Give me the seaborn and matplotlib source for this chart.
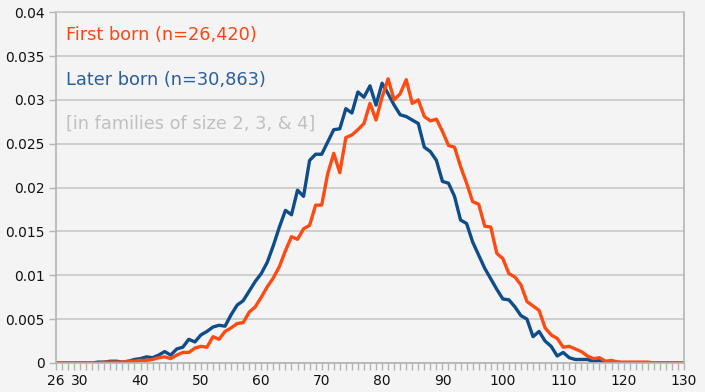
import seaborn as sns
import matplotlib
matplotlib.use("Agg")
import matplotlib.pyplot as plt
import pandas as pd
from matplotlib.ticker import MultipleLocator, FixedLocator, FuncFormatter

# Data: share of people by age (26..130)
ages = list(range(26, 131))

later_born = [
    0, 0, 0, 0, 0, 0, 0, 0.0001, 0.0001, 0.0002,
    0.0002, 0.0001, 0.0002, 0.0004, 0.0005, 0.0007, 0.0006, 0.0009, 0.0013, 0.0009,
    0.0016, 0.0018, 0.0027, 0.0024, 0.0032, 0.0036, 0.0041, 0.0043, 0.0042, 0.0055,
    0.0066, 0.0071, 0.0082, 0.0093, 0.0102, 0.0115, 0.0134, 0.0155, 0.0174, 0.0169,
    0.0197, 0.0190, 0.0231, 0.0238, 0.0238, 0.0252, 0.0266, 0.0267, 0.0290, 0.0285,
    0.0309, 0.0303, 0.0316, 0.0294, 0.0319, 0.0307, 0.0294, 0.0283, 0.0281, 0.0277,
    0.0273, 0.0246, 0.0241, 0.0231, 0.0207, 0.0205, 0.0190, 0.0163, 0.0159, 0.0138,
    0.0123, 0.0108, 0.0096, 0.0084, 0.0073, 0.0072, 0.0064, 0.0054, 0.0050, 0.0030,
    0.0036, 0.0025, 0.0019, 0.0008, 0.0012, 0.0006, 0.0004, 0.0004, 0.0004, 0.0002,
    0.0003, 0.0001, 0.0001, 0.0001, 0, 0, 0, 0, 0, 0,
    0, 0, 0, 0, 0,
]

first_born = [
    0, 0, 0, 0, 0, 0, 0, 0, 0.0001, 0.0001,
    0.0001, 0.0001, 0.0002, 0.0002, 0.0003, 0.0003, 0.0004, 0.0006, 0.0007, 0.0005,
    0.0009, 0.0012, 0.0012, 0.0017, 0.0019, 0.0018, 0.0030, 0.0027, 0.0036, 0.0040,
    0.0045, 0.0046, 0.0058, 0.0064, 0.0075, 0.0087, 0.0097, 0.0110, 0.0128, 0.0144,
    0.0141, 0.0153, 0.0157, 0.0180, 0.0180, 0.0216, 0.0239, 0.0217, 0.0257, 0.0260,
    0.0266, 0.0273, 0.0296, 0.0277, 0.0303, 0.0324, 0.0300, 0.0307, 0.0323, 0.0296,
    0.0300, 0.0281, 0.0276, 0.0278, 0.0264, 0.0248, 0.0246, 0.0224, 0.0205, 0.0184,
    0.0181, 0.0156, 0.0155, 0.0125, 0.0119, 0.0102, 0.0098, 0.0089, 0.0070, 0.0065,
    0.0060, 0.0040, 0.0032, 0.0028, 0.0018, 0.0019, 0.0016, 0.0013, 0.0008, 0.0005,
    0.0006, 0.0002, 0.0003, 0.0001, 0.0001, 0.0001, 0.0001, 0.0001, 0.0001, 0,
    0, 0, 0, 0, 0,
]

x_labels = [26, 30, 40, 50, 60, 70, 80, 90, 100, 110, 120, 130]

orange = "#ff4a12"
blue = "#0f4c8a"
bg = "#f4f4f4"
grid = "#c8c8c8"

df = pd.DataFrame({
    "age": ages * 2,
    "share": later_born + first_born,
    "group": ["later"] * len(ages) + ["first"] * len(ages),
})

sns.set_style("white")
plt.rcParams["font.family"] = ["DejaVu Sans"]

fig = plt.figure(figsize=(7.05, 3.92), dpi=100, facecolor=bg)
ax = fig.add_axes([0.0794, 0.074, 0.8908, 0.895])
ax.set_facecolor(bg)

# later born first so first born sits on top
sns.lineplot(data=df, x="age", y="share", hue="group", hue_order=["later", "first"],
             palette={"later": blue, "first": orange}, linewidth=2.4,
             legend=False, ax=ax)

ax.set_xlim(26, 130)
ax.set_ylim(0, 0.04)
ax.set_xlabel("")
ax.set_ylabel("")

ax.xaxis.set_major_locator(FixedLocator(x_labels))
ax.xaxis.set_minor_locator(MultipleLocator(1))
ax.yaxis.set_major_locator(MultipleLocator(0.005))
ax.yaxis.set_major_formatter(FuncFormatter(lambda v, p: "%g" % round(v, 3)))

ax.tick_params(axis="x", which="both", bottom=True, direction="out", length=5, width=1,
               color="#b4b4b4", labelsize=10, labelcolor="#111111", pad=3)
ax.tick_params(axis="y", which="major", left=True, direction="out", length=5, width=1,
               color="#b4b4b4", labelsize=10, labelcolor="#111111", pad=3)

ax.grid(axis="y", color=grid, linewidth=1.2)
ax.grid(axis="x", visible=False)
ax.set_axisbelow(True)

for side in ["left", "bottom", "right"]:
    ax.spines[side].set_color("#b4b4b4")
    ax.spines[side].set_linewidth(1.2)
ax.spines["top"].set_color(grid)
ax.spines["top"].set_linewidth(1.2)

ax.text(0.016, 0.934, "First born (n=26,420)", transform=ax.transAxes,
        color="#ff4512", fontsize=12.8, va="center", ha="left")
ax.text(0.016, 0.806, "Later born (n=30,863)", transform=ax.transAxes,
        color="#2a5e9c", fontsize=12.8, va="center", ha="left")
ax.text(0.016, 0.681, "[in families of size 2, 3, & 4]", transform=ax.transAxes,
        color="#c0c0c0", fontsize=12.8, va="center", ha="left")

fig.savefig("out.png", dpi=100, facecolor=bg)
